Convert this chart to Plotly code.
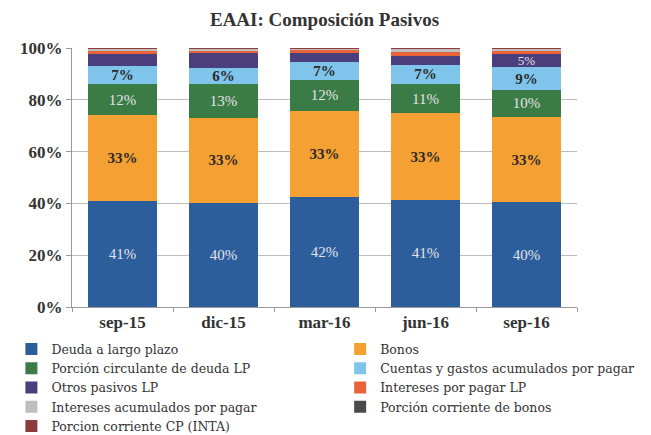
import plotly.graph_objects as go

categories = ["sep-15", "dic-15", "mar-16", "jun-16", "sep-16"]

deuda_lp = [41.0, 40.3, 42.4, 41.4, 40.4]
bonos = [33.0, 32.6, 33.2, 33.4, 33.0]
porcion_circ = [12.0, 13.2, 12.2, 11.3, 10.4]
cuentas = [7.0, 6.2, 6.8, 7.4, 8.8]
otros_lp = [5.0, 5.7, 3.4, 3.5, 4.9]
intereses_lp = [0.7, 1.0, 1.6, 1.5, 1.4]
intereses_acum = [1.0, 0.8, 0.3, 1.3, 0.9]
porcion_bonos = [0.1, 0.1, 0.05, 0.1, 0.1]
porcion_cp = [0.2, 0.1, 0.05, 0.1, 0.1]

otros_lp_labeled = [False, False, False, False, True]

SERIF = "Liberation Serif"
LEG_FONT = "DejaVu Serif"

def pct(vals, show=None):
    if show is None:
        show = [True] * len(vals)
    return [f"{v:.0f}%" if s else "" for v, s in zip(vals, show)]

# name, values, colour, labels, label colour, bold, label size, legend
series = [
    ("Deuda a largo plazo", deuda_lp, "#2D5E9C", pct(deuda_lp), "#E2E2E8", False, 15, "legend"),
    ("Bonos", bonos, "#F5A033", pct(bonos), "#2A2A2A", True, 15, "legend2"),
    ("Porción circulante de deuda LP", porcion_circ, "#3B7B45", pct(porcion_circ), "#E2E2E8", False, 15, "legend"),
    ("Cuentas y gastos acumulados por pagar", cuentas, "#7FC4EB", pct(cuentas), "#2A2A2A", True, 15, "legend2"),
    ("Otros pasivos LP", otros_lp, "#4A3E7C", pct(otros_lp, otros_lp_labeled), "#E2E2E8", False, 13, "legend"),
    ("Intereses por pagar LP", intereses_lp, "#E8633A", None, None, False, 0, "legend2"),
    ("Intereses acumulados por pagar", intereses_acum, "#BEBEBE", None, None, False, 0, "legend"),
    ("Porción corriente de bonos", porcion_bonos, "#4A4A4A", None, None, False, 0, "legend2"),
    ("Porcion corriente CP (INTA)", porcion_cp, "#8E3B3E", None, None, False, 0, "legend"),
]

fig = go.Figure()
for name, vals, color, text, tcolor, bold, fsize, leg in series:
    if text is not None:
        kw = dict(
            text=[f"<b>{t}</b>" if (bold and t) else t for t in text],
            textposition="inside",
            insidetextanchor="middle",
            textangle=0,
            constraintext="none",
            textfont=dict(family=SERIF, size=fsize, color=tcolor),
        )
    else:
        kw = dict(textposition="none")
    fig.add_trace(go.Bar(
        name=name, x=categories, y=vals,
        marker=dict(color=color, line=dict(width=0)),
        hoverinfo="name+y",
        legend=leg,
        **kw,
    ))

legend_common = dict(
    orientation="v",
    traceorder="normal",
    yanchor="top",
    xanchor="left",
    font=dict(family=LEG_FONT, size=12.5, color="#333333"),
    itemwidth=30,
    tracegroupgap=0,
    bgcolor="rgba(0,0,0,0)",
)

fig.update_layout(
    width=643, height=427,
    barmode="stack",
    bargap=0.32,
    paper_bgcolor="white",
    plot_bgcolor="white",
    margin=dict(l=64, r=74, t=40, b=128, autoexpand=False),
    title=dict(
        text="<b>EAAI: Composición Pasivos</b>",
        x=0.5, xref="paper", y=0.973, yanchor="middle",
        font=dict(family=SERIF, size=19, color="#333333"),
    ),
    font=dict(family=SERIF, color="#333333"),
    legend=dict(x=-0.12, y=-0.106, **legend_common),
    legend2=dict(x=0.531, y=-0.106, **legend_common),
    xaxis=dict(
        showline=True, linecolor="#9A9A9A", linewidth=1,
        ticks="outside", tickson="boundaries", ticklen=4, tickcolor="#9A9A9A",
        tickfont=dict(family=SERIF, size=17, color="#333333"),
        tickprefix="<b>", ticksuffix="</b>",
    ),
    yaxis=dict(
        range=[0, 100],
        tickvals=[0, 20, 40, 60, 80, 100],
        ticktext=["<b>0%</b>", "<b>20%</b>", "<b>40%</b>", "<b>60%</b>", "<b>80%</b>", "<b>100%</b>"],
        showgrid=True, gridcolor="#BDBDBD", gridwidth=1,
        showline=True, linecolor="#9A9A9A", linewidth=1,
        ticks="outside", ticklen=5, tickcolor="#9A9A9A",
        tickfont=dict(family=SERIF, size=17, color="#333333"),
        zeroline=False,
    ),
)

fig.write_html("out.html")
